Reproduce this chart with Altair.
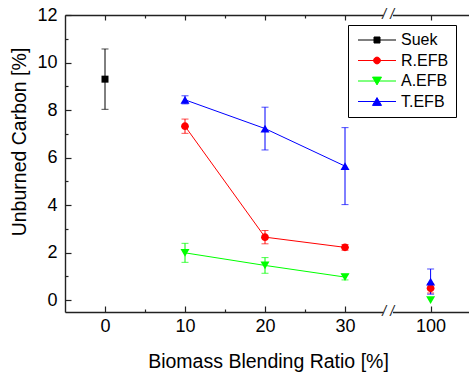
import altair as alt
import pandas as pd

# ---------------- data ----------------
series = ["Suek", "R.EFB", "A.EFB", "T.EFB"]
colors = ["#000000", "#ff0000", "#00ff00", "#0000ff"]

suek_ratio = [0]
suek_uc = [9.30]
suek_err = [1.27]

efb_ratio = [10, 20, 30, 100]
refb_uc = [7.32, 2.65, 2.22, 0.50]
refb_err = [0.30, 0.28, 0.12, 0.20]
aefb_uc = [1.99, 1.46, 0.97, 0.00]
aefb_err = [0.40, 0.33, 0.12, 0.00]
tefb_uc = [8.43, 7.22, 5.64, 0.78]
tefb_err = [0.17, 0.90, 1.62, 0.53]

x_tick_labels = [0, 10, 20, 30, 100]
x_minor = [5, 15, 25]
y_tick_values = [0, 2, 4, 6, 8, 10, 12]
y_minor = [1, 3, 5, 7, 9, 11]

# broken axis: the 100 segment is drawn right after the break
BREAK_POS = 35.4
POS_100 = 40.7


def xpos(r):
    return POS_100 if r >= 100 else r


rows = []
for name, rs, ys, es in [
    ("Suek", suek_ratio, suek_uc, suek_err),
    ("R.EFB", efb_ratio, refb_uc, refb_err),
    ("A.EFB", efb_ratio, aefb_uc, aefb_err),
    ("T.EFB", efb_ratio, tefb_uc, tefb_err),
]:
    for r, y, e in zip(rs, ys, es):
        rows.append({"series": name, "ratio": r, "uc": y, "err": e})
df = pd.DataFrame(rows)

FONT = "Liberation Sans"
AX = "#222222"
W, H = 404, 297

xscale = alt.Scale(domain=[-5, 45.5], nice=False, zero=False)
yscale = alt.Scale(domain=[-0.5, 12], nice=False, zero=False)

point_paths = [
    "M-0.7,-0.7H0.7V0.7H-0.7Z",
    "M0.78,0A0.78,0.78,0,1,1,-0.78,0A0.78,0.78,0,1,1,0.78,0Z",
    "M-0.9,-0.78H0.9L0,0.78Z",
    "M0,-0.78L0.9,0.78H-0.9Z",
]
legend_paths = [
    "M-1,0H6.6M2.2,-0.6H3.4V0.6H2.2Z",
    "M3.48,0A0.68,0.68,0,1,1,2.12,0A0.68,0.68,0,1,1,3.48,0ZM-1,0H6.6",
    "M-1,0H6.6M1.9,-0.78H3.7L2.8,0.78Z",
    "M-1,0H6.6M2.8,-0.78L3.7,0.78H1.9Z",
]

base = alt.Chart(df).transform_calculate(
    xpos=f"datum.ratio >= 100 ? {POS_100} : datum.ratio",
    lo="datum.uc - datum.err",
    hi="datum.uc + datum.err",
)

xvals = [xpos(v) for v in x_tick_labels]


def tick_axis(orient, values, size):
    return alt.Axis(
        orient=orient, values=values, offset=-size, tickSize=size, ticks=True,
        tickColor=AX, tickWidth=1.2, labels=False, domain=False, grid=False, title=None,
    )


x_main = alt.Axis(
    orient="bottom", values=xvals, ticks=False, tickSize=0, domain=True,
    domainColor=AX, domainWidth=1.4, grid=False,
    labelExpr=f"datum.value > {BREAK_POS} ? '100' : datum.label",
    labelFont=FONT, labelFontSize=18, labelColor="black", labelPadding=5,
    title="Biomass Blending Ratio [%]", titleFont=FONT, titleFontSize=19.5,
    titleFontWeight="normal", titleColor="black", titleX=203, titleY=55,
    titleBaseline="alphabetic", titleAlign="center",
)
y_main = alt.Axis(
    orient="left", values=y_tick_values, ticks=False, tickSize=0, domain=True,
    domainColor=AX, domainWidth=1.4, grid=False,
    labelFont=FONT, labelFontSize=18, labelColor="black", labelPadding=8,
    title="Unburned Carbon [%]", titleFont=FONT, titleFontSize=19.5,
    titleFontWeight="normal", titleColor="black", titleAngle=-90,
    titleX=-40, titleY=126.5, titleBaseline="alphabetic", titleAlign="center",
)
x_top = alt.Axis(
    orient="top", ticks=False, tickSize=0, labels=False, domain=True,
    domainColor=AX, domainWidth=1.4, grid=False, title=None,
)


def carrier(xa, ya):
    return base.mark_point(opacity=0).encode(
        x=alt.X("xpos:Q", scale=xscale, axis=xa),
        y=alt.Y("uc:Q", scale=yscale, axis=ya),
    )


carriers = [
    carrier(x_main, y_main),
    carrier(tick_axis("bottom", xvals, 6), tick_axis("left", y_tick_values, 6)),
    carrier(tick_axis("bottom", x_minor, 3), tick_axis("left", y_minor, 3)),
    carrier(x_top, None),
    carrier(tick_axis("top", xvals, 5), None),
    carrier(tick_axis("top", x_minor, 3), None),
]

X = alt.X("xpos:Q", scale=xscale, axis=None)
Y = alt.Y("uc:Q", scale=yscale, axis=None)

data_layers = []
for name, col, path in zip(series, colors, point_paths):
    sb = base.transform_filter(alt.datum.series == name)
    data_layers.append(
        sb.transform_filter("datum.err > 0").mark_errorbar(
            ticks={"size": 7}, thickness=1, color=col
        ).encode(x=X, y=alt.Y("lo:Q", scale=yscale, axis=None), y2="hi:Q")
    )
    data_layers.append(
        sb.transform_filter("datum.ratio > 0 && datum.ratio < 100").mark_line(
            strokeWidth=1, color=col
        ).encode(x=X, y=Y)
    )
for name, col, path in zip(series, colors, point_paths):
    data_layers.append(
        base.transform_filter(alt.datum.series == name).mark_point(
            filled=True, opacity=1, size=100, strokeWidth=0, shape=path, color=col
        ).encode(x=X, y=Y)
    )

LEG = dict(
    title=None, orient="none", legendX=283, legendY=10,
    padding=7, symbolSize=100, symbolStrokeWidth=1, labelOffset=30,
    labelFont=FONT, labelFontSize=16, labelColor="black",
    rowPadding=4.5, strokeColor="black", fillColor="white",
    cornerRadius=0,
)

legend_layer = base.transform_filter("false").mark_point(
    filled=True, opacity=1, size=100
).encode(
    x=X, y=Y,
    fill=alt.Fill("series:N", scale=alt.Scale(domain=series, range=colors),
                  legend=alt.Legend(**LEG)),
    stroke=alt.Stroke("series:N", scale=alt.Scale(domain=series, range=colors),
                      legend=alt.Legend(**LEG)),
    shape=alt.Shape("series:N", scale=alt.Scale(domain=series, range=legend_paths),
                    legend=alt.Legend(**LEG)),
)

brk = pd.DataFrame({"xpos": [BREAK_POS]})
gap_bottom = alt.Chart(brk).mark_rect(color="white").encode(
    x=alt.X("lo:Q", scale=xscale, axis=None), x2="hi:Q",
    y=alt.value(H - 3), y2=alt.value(H + 3),
).transform_calculate(lo="datum.xpos - 0.6", hi="datum.xpos + 0.6")
gap_top = alt.Chart(brk).mark_rect(color="white").encode(
    x=alt.X("lo:Q", scale=xscale, axis=None), x2="hi:Q",
    y=alt.value(-3), y2=alt.value(3),
).transform_calculate(lo="datum.xpos - 0.6", hi="datum.xpos + 0.6")
slash_bottom = alt.Chart(brk).mark_text(
    text="/ /", font=FONT, fontSize=14, fontStyle="italic", color=AX,
    align="center", baseline="middle",
).encode(x=alt.X("xpos:Q", scale=xscale, axis=None), y=alt.value(H))
slash_top = alt.Chart(brk).mark_text(
    text="/ /", font=FONT, fontSize=14, fontStyle="italic", color=AX,
    align="center", baseline="middle",
).encode(x=alt.X("xpos:Q", scale=xscale, axis=None), y=alt.value(0))

chart = alt.layer(
    *carriers, *data_layers, legend_layer,
    gap_bottom, gap_top, slash_bottom, slash_top,
).resolve_axis(x="independent", y="independent").properties(
    width=W, height=H,
    autosize=alt.AutoSizeParams(type="none"),
    padding={"left": 65, "top": 15, "right": 0, "bottom": 62},
).configure_view(stroke=None).configure(background="white")

chart.save("out.html", embed_options={"renderer": "svg", "actions": False})
